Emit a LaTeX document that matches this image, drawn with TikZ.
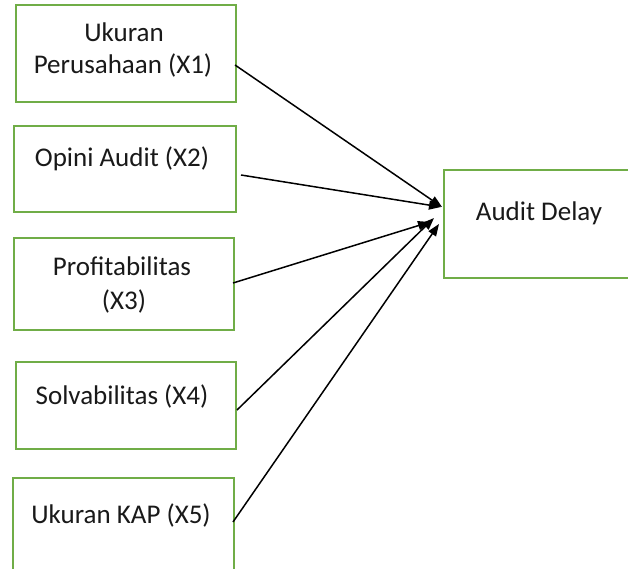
\documentclass[tikz,border=0pt]{standalone}
\usepackage{fontspec}
\setmainfont{Carlito}
\usetikzlibrary{arrows.meta}
\definecolor{boxgreen}{RGB}{112,173,71}
\begin{document}
\begin{tikzpicture}[x=1pt,y=-1pt,
  box/.style={draw=boxgreen,line width=2pt,rectangle,inner sep=0pt,anchor=north west},
  lbl/.style={font=\fontsize{27}{34}\selectfont,text=black!90,align=center,inner sep=0pt},
  conn/.style={line width=1.5pt,-{Triangle[length=12pt,width=9pt]}}]
\clip (0,0) rectangle (628,569);
\useasboundingbox (0,0) rectangle (628,569);
\fill[white] (0,0) rectangle (628,569);
% boxes
\node[box,minimum width=220pt,minimum height=97pt] (b1) at (15,4) {};
\node[box,minimum width=222pt,minimum height=86pt] (b2) at (13,125) {};
\node[box,minimum width=220pt,minimum height=92pt] (b3) at (13,237) {};
\node[box,minimum width=220pt,minimum height=87pt] (b4) at (15,361) {};
\node[box,minimum width=221pt,minimum height=120pt] (b5) at (12,477) {};
\node[box,minimum width=280pt,minimum height=108pt] (y) at (443,169) {};
% labels
\node[lbl] (l1a) at (124,32) {Ukuran};
\node[lbl] (l1b) at (123,66) {Perusahaan (X1)};
\node[lbl] (l2) at (122,159) {Opini Audit (X2)};
\node[lbl] (l3a) at (122,266) {Profitabilitas};
\node[lbl] (l3b) at (124,301) {(X3)};
\node[lbl] (l4) at (122,396) {Solvabilitas (X4)};
\node[lbl] (l5) at (121,515) {Ukuran KAP (X5)};
\node[lbl] (ly) at (539,213) {Audit Delay};
% connector ends
\coordinate (s1) at (235,65);
\coordinate (s2) at (241,175);
\coordinate (s3) at (233,283);
\coordinate (s4) at (237,410);
\coordinate (s5) at (233,522);
\coordinate (t1) at (442,207);
\coordinate (t2) at (441,207);
\coordinate (t3) at (430,222);
\coordinate (t4) at (434,218);
\coordinate (t5) at (439,224);
\draw[conn] (s1) -- (t1);
\draw[conn] (s2) -- (t2);
\draw[conn] (s3) -- (t3);
\draw[conn] (s4) -- (t4);
\draw[conn] (s5) -- (t5);
\end{tikzpicture}
\end{document}
